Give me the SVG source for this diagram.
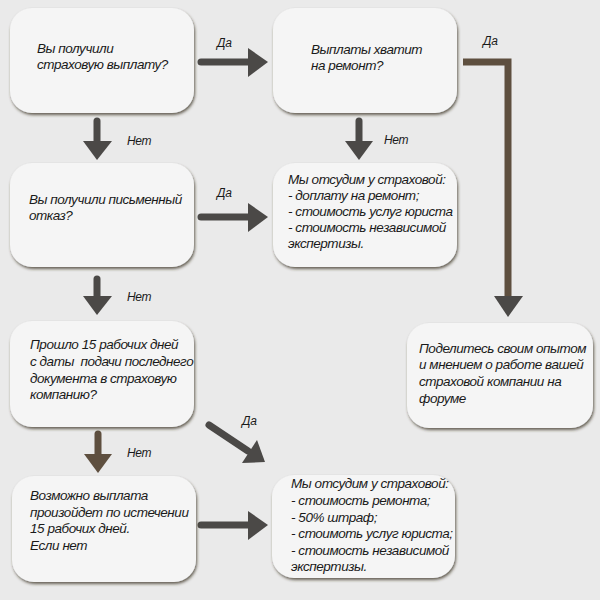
<svg xmlns="http://www.w3.org/2000/svg" width="600" height="600" viewBox="0 0 600 600">
<defs>
<filter id="sh" x="-10%" y="-10%" width="120%" height="130%">
<feDropShadow dx="1" dy="2" stdDeviation="1.6" flood-color="#3b3022" flood-opacity="0.75"/>
</filter>
</defs>
<style>
.box{fill:#f5f5f5;filter:url(#sh)}
.t{font-family:"Liberation Sans",Arial,sans-serif;font-style:italic;font-size:13.5px;letter-spacing:-0.45px;fill:#1a1a1a}
.lbl{font-family:"Liberation Sans",Arial,sans-serif;font-style:italic;font-size:12px;letter-spacing:-0.3px;fill:#1a1a1a}
.sh{stroke:#4b4947;stroke-width:7;fill:none;stroke-linecap:round}
.br{stroke:#5e4f3f}
.hd{fill:#4b4947}
.hb{fill:#5e4f3f}
</style>
<rect width="600" height="600" fill="#eaeaea"/>

<g id="connectors">
  <!-- Да: box1 -> box2 -->
  <line class="sh" x1="201" y1="62" x2="250" y2="62"/>
  <polygon class="hd" points="248,48 268,62 248,77"/>
  <text class="lbl" x="217" y="47">Да</text>
  <!-- Нет: box1 -> box3 -->
  <line class="sh" x1="97" y1="121" x2="97" y2="143"/>
  <polygon class="hd" points="83,141 112,141 97,160"/>
  <text class="lbl" x="127" y="145">Нет</text>
  <!-- Нет: box2 -> box4 -->
  <line class="sh" x1="359" y1="121" x2="359" y2="143"/>
  <polygon class="hd" points="345,141 373,141 359,160"/>
  <text class="lbl" x="384" y="144">Нет</text>
  <!-- Да: box2 -> box5 -->
  <polyline class="sh br" style="stroke-linecap:butt" points="463,62 508,62 508,298"/>
  <polygon class="hd" points="494,296 523,296 508,317"/>
  <text class="lbl" x="483" y="45">Да</text>
  <!-- Да: box3 -> box4 -->
  <line class="sh" x1="201" y1="217" x2="250" y2="217"/>
  <polygon class="hd" points="248,203 268,217 248,232"/>
  <text class="lbl" x="217" y="197">Да</text>
  <!-- Нет: box3 -> box6 -->
  <line class="sh" x1="97" y1="279" x2="97" y2="298"/>
  <polygon class="hd" points="83,296 112,296 97,315"/>
  <text class="lbl" x="127" y="301">Нет</text>
  <!-- Нет: box6 -> box7 -->
  <line class="sh br" x1="98" y1="434" x2="98" y2="456"/>
  <polygon class="hb" points="84,454 112,454 98,473"/>
  <text class="lbl" x="127" y="457">Нет</text>
  <!-- Да: box6 -> box8 (diagonal) -->
  <line class="sh" x1="209" y1="425" x2="248" y2="451"/>
  <polygon class="hd" points="257,440 265,462 242,463"/>
  <text class="lbl" x="242" y="425">Да</text>
  <!-- box7 -> box8 -->
  <line class="sh" x1="201" y1="525" x2="250" y2="525"/>
  <polygon class="hd" points="248,511 268,525 248,540"/>
</g>

<g id="n1">
  <rect class="box" x="10" y="8" width="184" height="105" rx="22"/>
  <text class="t" x="37" y="53">Вы получили</text>
  <text class="t" x="37" y="69">страховую выплату?</text>
</g>
<g id="n2">
  <rect class="box" x="273" y="8" width="184" height="105" rx="22"/>
  <text class="t" x="311" y="54">Выплаты хватит</text>
  <text class="t" x="311" y="70">на ремонт?</text>
</g>
<g id="n3">
  <rect class="box" x="10" y="163" width="184" height="104" rx="22"/>
  <text class="t" x="29" y="204">Вы получили письменный</text>
  <text class="t" x="29" y="220">отказ?</text>
</g>
<g id="n4">
  <rect class="box" x="273" y="163" width="184" height="104" rx="22"/>
  <text class="t" x="288" y="184">Мы отсудим у страховой:</text>
  <text class="t" x="288" y="200">- доплату на ремонт;</text>
  <text class="t" x="288" y="216">- стоимость услуг юриста</text>
  <text class="t" x="288" y="232">- стоимость независимой</text>
  <text class="t" x="288" y="248">экспертизы.</text>
</g>
<g id="n5">
  <rect class="box" x="407" y="323" width="186" height="105" rx="22"/>
  <text class="t" x="419" y="353">Поделитесь своим опытом</text>
  <text class="t" x="419" y="369">и мнением о работе вашей</text>
  <text class="t" x="419" y="386">страховой компании на</text>
  <text class="t" x="419" y="403">форуме</text>
</g>
<g id="n6">
  <rect class="box" x="10" y="321" width="184" height="106" rx="22"/>
  <text class="t" x="30" y="349">Прошло 15 рабочих дней</text>
  <text class="t" x="30" y="366" xml:space="preserve">с даты  подачи последнего</text>
  <text class="t" x="30" y="383">документа в страховую</text>
  <text class="t" x="30" y="399">компанию?</text>
</g>
<g id="n7">
  <rect class="box" x="12" y="476" width="184" height="106" rx="22"/>
  <text class="t" x="30" y="500">Возможно выплата</text>
  <text class="t" x="30" y="517">произойдет по истечении</text>
  <text class="t" x="30" y="533">15 рабочих дней.</text>
  <text class="t" x="30" y="550">Если нет</text>
</g>
<g id="n8">
  <rect class="box" x="272" y="475" width="183" height="103" rx="22"/>
  <text class="t" x="291" y="488">Мы отсудим у страховой:</text>
  <text class="t" x="291" y="505">- стоимость ремонта;</text>
  <text class="t" x="291" y="522">- 50% штраф;</text>
  <text class="t" x="291" y="538">- стоимоть услуг юриста;</text>
  <text class="t" x="291" y="555">- стоимость независимой</text>
  <text class="t" x="291" y="571">экспертизы.</text>
</g>
</svg>
